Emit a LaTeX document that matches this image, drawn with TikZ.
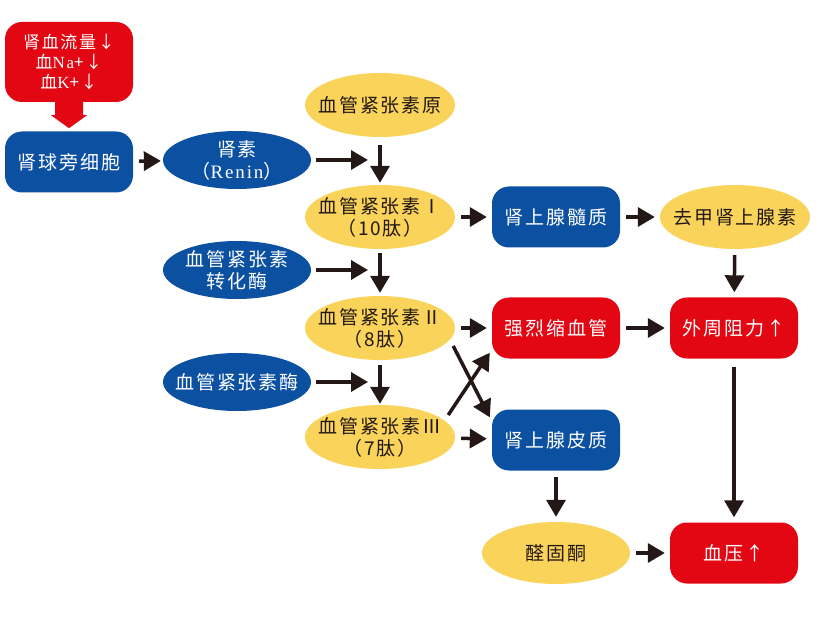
\documentclass[tikz,border=0pt]{standalone}
\usepackage{fontspec}
\setmainfont[LetterSpace=10]{Noto Sans CJK SC}
\newfontfamily\latfont[LetterSpace=10]{Liberation Serif}
\usetikzlibrary{shapes.geometric,arrows.meta}
\definecolor{kred}{HTML}{E30613}
\definecolor{kblue}{HTML}{0C50A2}
\definecolor{kyellow}{HTML}{F9D35A}
\definecolor{karrow}{HTML}{231815}
\tikzset{
  box/.style={rectangle,rounded corners=17pt,minimum width=128pt,minimum height=61pt,inner sep=0pt,text=white,align=center,font=\fontsize{19}{22}\selectfont},
  redbox/.style={box,fill=kred},
  bluebox/.style={box,fill=kblue},
  oval/.style={ellipse,inner xsep=-10pt,inner ysep=-4pt,align=center,font=\fontsize{19}{22}\selectfont},
  blueoval/.style={oval,fill=kblue,text=white,minimum width=148pt,minimum height=58pt},
  yeloval/.style={oval,fill=kyellow,text=karrow,minimum width=150pt,minimum height=64pt},
  arr/.style={-{Triangle[length=17pt,width=19pt]},line width=3.5pt,draw=karrow},
  link/.style={arr,shorten <=6pt,shorten >=5pt}
}
\begin{document}
\begin{tikzpicture}[x=1pt,y=-1pt]
\useasboundingbox (0,0) rectangle (832,617);
  \node[redbox,minimum height=80pt,font=\fontsize{17}{20}\selectfont] at (69,62) (flow) {肾血流量↓\\血{\latfont Na}+↓\\血{\latfont K}+↓};
  \node[bluebox] at (69,162) (jg) {肾球旁细胞};
  \fill[kred] ([xshift=-14pt]flow.south) -- ++(28,0) -- ++(0,13) -- ++(4,0) -- ++(-18,13) -- ++(-18,-13) -- ++(4,0) -- cycle;

  \node[blueoval] at (237,160) (renin) {肾素\\（{\latfont Renin}）};
  \node[blueoval] at ([yshift=-110pt]renin) (ace) {血管紧张素\\转化酶};
  \node[blueoval] at ([yshift=-112pt]ace) (ase) {血管紧张素酶};

  \node[yeloval] at (380,105) (ag0) {血管紧张素原};
  \node[yeloval] at (380,217) (ag1) {血管紧张素Ⅰ\\（10肽）};
  \node[yeloval] at ([yshift=-111pt]ag1) (ag2) {血管紧张素Ⅱ\\（8肽）};
  \node[yeloval] at ([yshift=-109pt]ag2) (ag3) {血管紧张素Ⅲ\\（7肽）};

  \node[bluebox] at (556,217) (medulla) {肾上腺髓质};
  \node[redbox] at ([yshift=-111pt]medulla) (vaso) {强烈缩血管};
  \node[bluebox] at ([yshift=-112pt]vaso) (cortex) {肾上腺皮质};
  \node[yeloval,minimum width=148pt,minimum height=62pt] at ([yshift=-113pt]cortex) (aldo) {醛固酮};

  \node[yeloval] at (735,217) (ne) {去甲肾上腺素};
  \node[redbox] at (734,328) (resist) {外周阻力↑};
  \node[redbox] at (734,553) (bp) {血压↑};

  \coordinate (j1) at (368,160);
  \coordinate (j2) at (368,270);
  \coordinate (j3) at (368,382);

  \draw[arr,shorten <=6pt,shorten >=2pt] (jg) -- (renin);
  \draw[arr,shorten <=5pt] (renin.east) -- (j1);
  \draw[arr,shorten <=5pt] (ace.east) -- (j2);
  \draw[arr,shorten <=5pt] (ase.east) -- (j3);
  \draw[arr,shorten <=8pt,shorten >=2pt] (ag0) -- (ag1);
  \draw[arr,shorten <=4pt,shorten >=3pt] (ag1) -- (ag2);
  \draw[arr,shorten <=5pt,shorten >=1pt] (ag2) -- (ag3);

  \draw[link] (ag1) -- (medulla);
  \draw[link] (medulla) -- (ne);
  \draw[link] (ne) -- (resist);
  \draw[link] (ag2) -- (vaso);
  \draw[link] (vaso) -- (resist);
  \draw[link] (ag3) -- (cortex);
  \draw[link] (cortex) -- (aldo);
  \draw[link] (aldo) -- (bp);
  \draw[link,shorten <=8pt] (resist) -- (bp);
  \draw[arr] ([shift={(-2,18)}]ag2.east) -- ([shift={(-2,8)}]cortex.north west);
  \draw[arr] ([shift={(-7,-22)}]ag3.east) -- ([shift={(-2,-6)}]vaso.south west);
\end{tikzpicture}
\end{document}
